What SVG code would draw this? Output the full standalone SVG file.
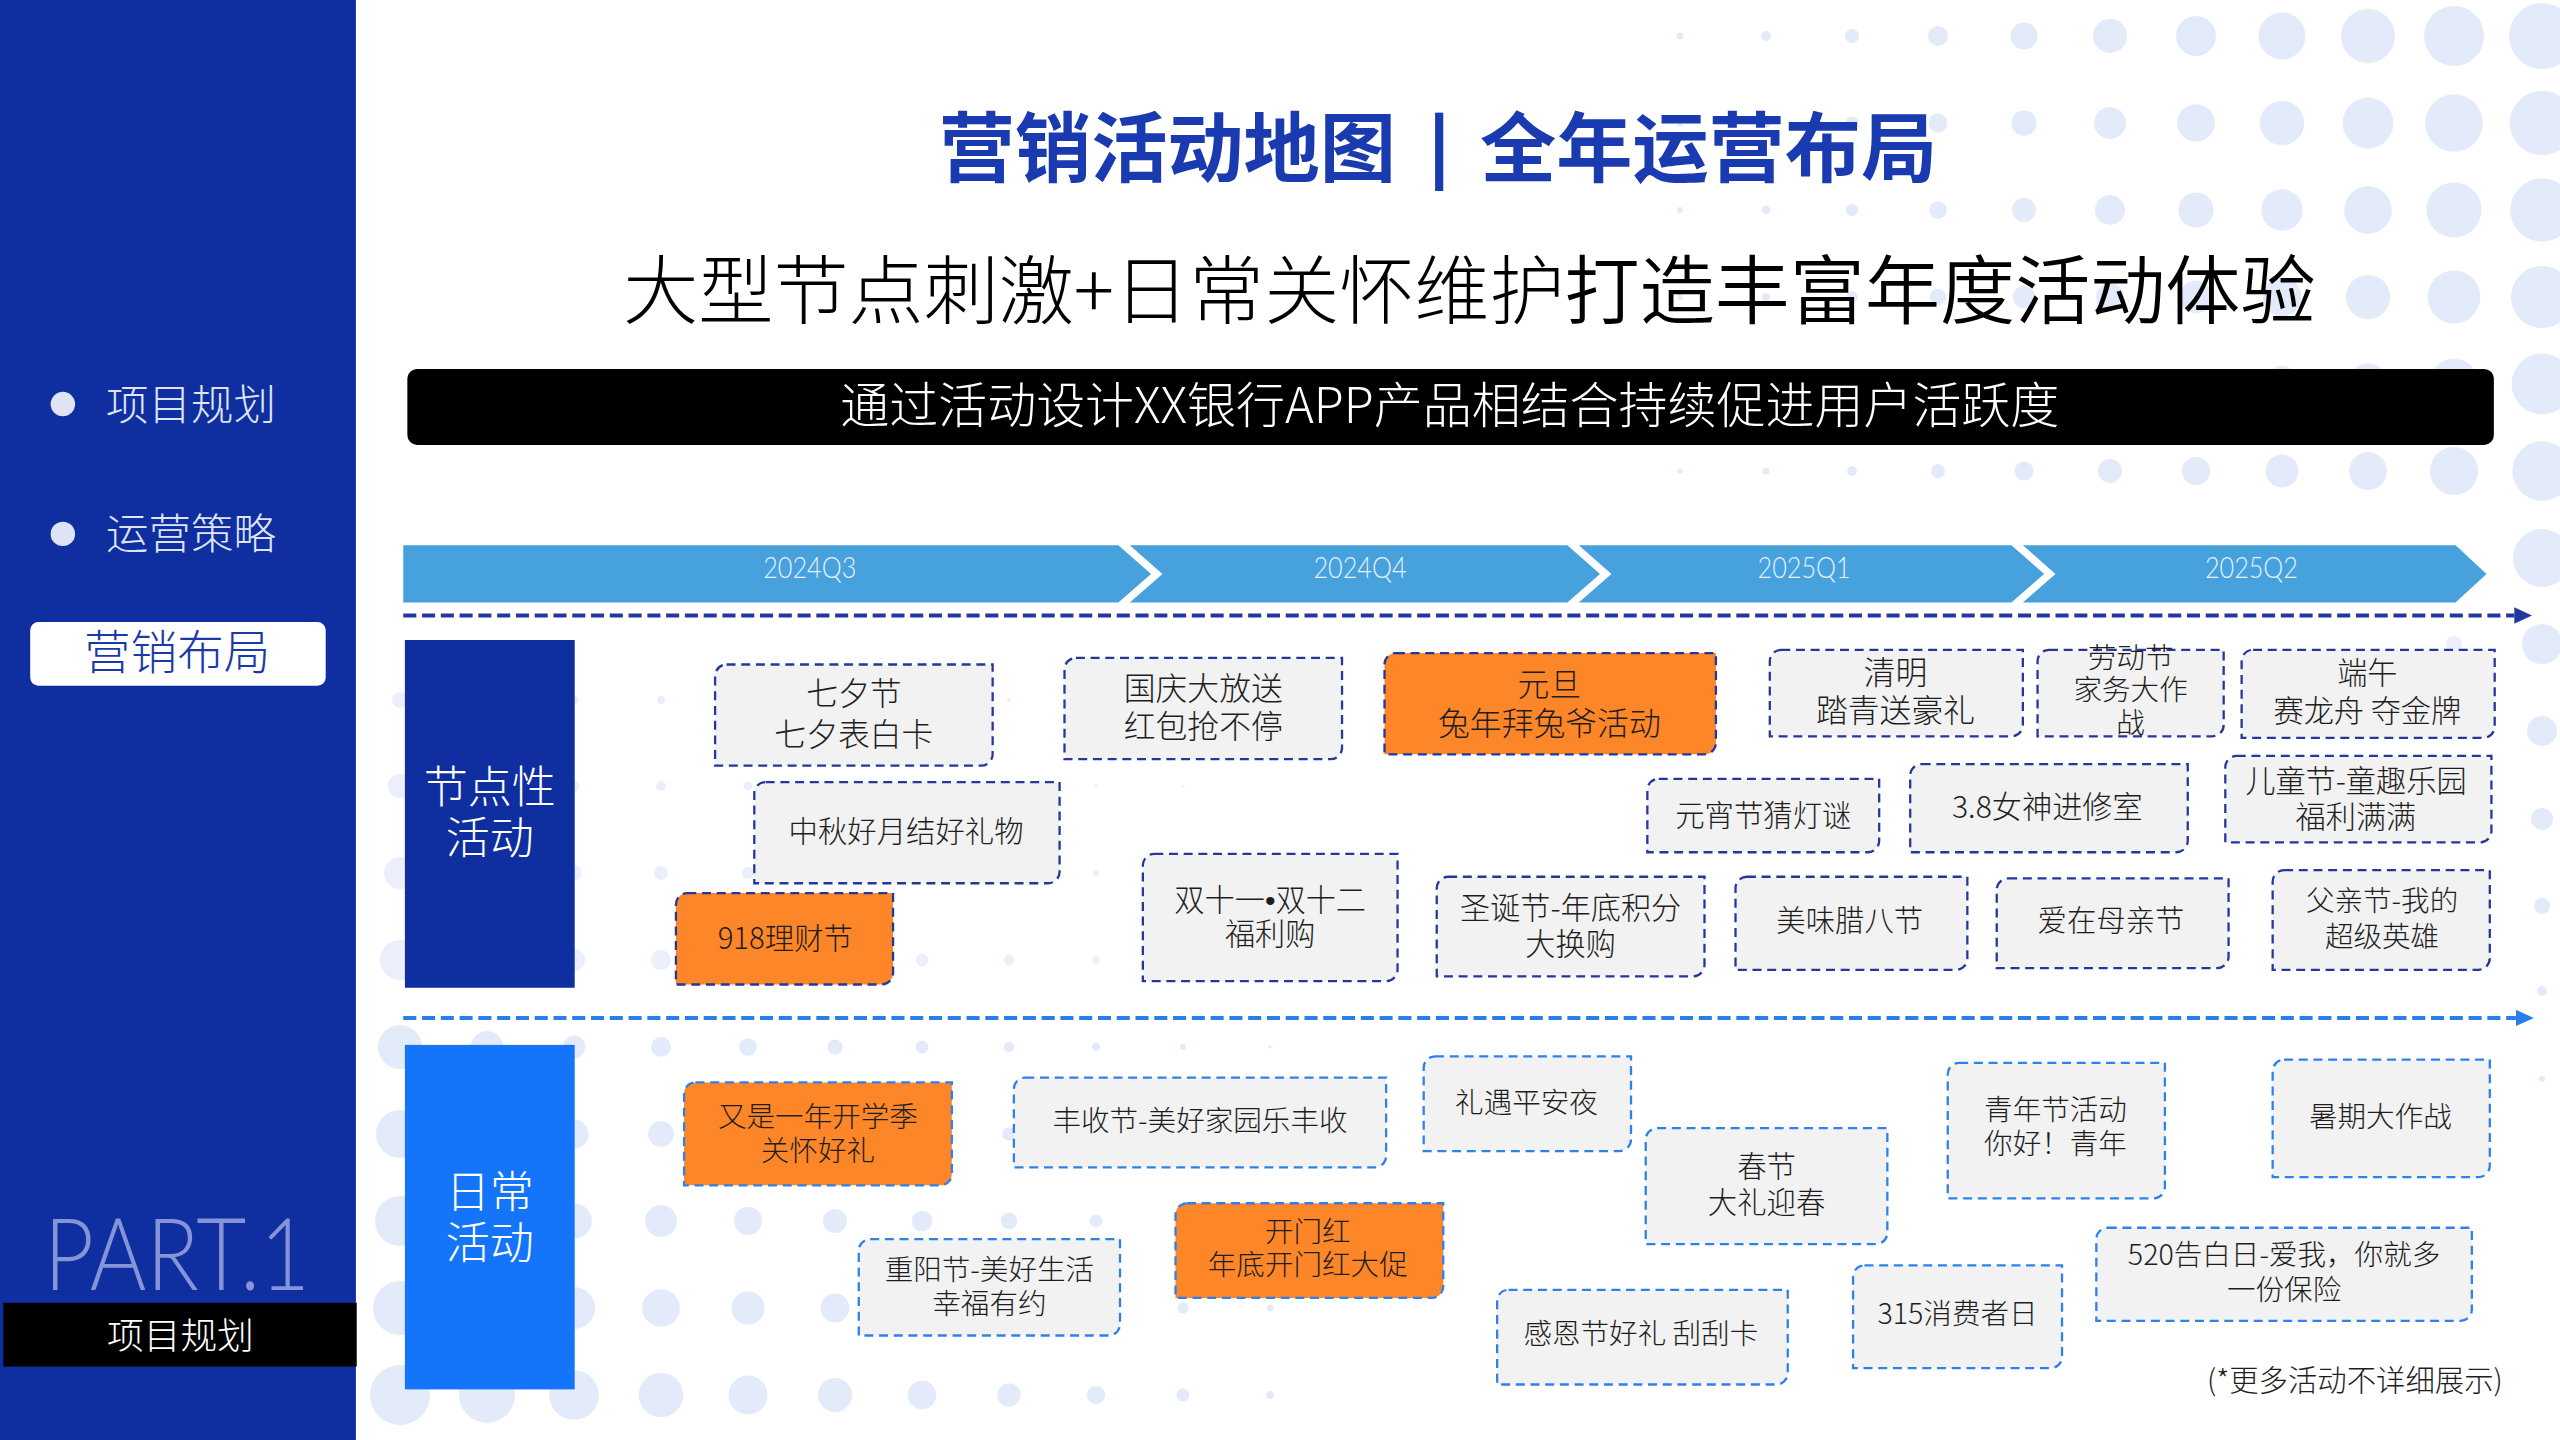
<svg xmlns="http://www.w3.org/2000/svg" width="2560" height="1440" viewBox="0 0 2560 1440">
<style>
.cjk{font-family:'Noto Sans CJK SC','Noto Sans',sans-serif}
.dot{fill:#e3eafa}
.dotf{fill:#e3eafa;opacity:0.75}
.n1{fill:#f2f2f2;stroke:#25379b;stroke-width:1.4;stroke-dasharray:5.5 3.5}
.n2{fill:#f2f2f2;stroke:#2e80ea;stroke-width:1.4;stroke-dasharray:5.5 3.5}
.or{fill:#fd8629}
.nt{font-family:'Noto Sans CJK SC','Noto Sans',sans-serif;fill:#1e1e1e;text-anchor:middle;font-weight:300}
.ql{font-family:'Lato','Noto Sans',sans-serif;font-weight:300;font-size:18px;fill:#e6f1fb;text-anchor:middle}
.chev{fill:#47a1dd}
</style>
<defs>
<marker id="ah1" markerWidth="11" markerHeight="10" refX="0" refY="5" orient="auto" markerUnits="userSpaceOnUse"><path d="M0,0 L11,5 L0,10 Z" fill="#22389e"/></marker>
<marker id="ah2" markerWidth="11" markerHeight="10" refX="0" refY="5" orient="auto" markerUnits="userSpaceOnUse"><path d="M0,0 L11,5 L0,10 Z" fill="#2a7eea"/></marker>
</defs>
<rect width="2560" height="1440" fill="#ffffff"/>
<g id="dots-top-right">
<circle class="dot" cx="1680" cy="36" r="3.5"/><circle class="dot" cx="1766" cy="36" r="5"/><circle class="dot" cx="1852" cy="36" r="7"/><circle class="dot" cx="1938" cy="36" r="10"/><circle class="dot" cx="2024" cy="36" r="13.5"/><circle class="dot" cx="2110" cy="36" r="17"/><circle class="dot" cx="2196" cy="36" r="20"/><circle class="dot" cx="2282" cy="36" r="23.5"/><circle class="dot" cx="2368" cy="36" r="27"/><circle class="dot" cx="2454" cy="36" r="30"/><circle class="dot" cx="2542" cy="36" r="33"/>
<circle class="dot" cx="1680" cy="123" r="3.3"/><circle class="dot" cx="1766" cy="123" r="4.7"/><circle class="dot" cx="1852" cy="123" r="6.6"/><circle class="dot" cx="1938" cy="123" r="9.4"/><circle class="dot" cx="2024" cy="123" r="12.7"/><circle class="dot" cx="2110" cy="123" r="16"/><circle class="dot" cx="2196" cy="123" r="18.8"/><circle class="dot" cx="2282" cy="123" r="22.1"/><circle class="dot" cx="2368" cy="123" r="25.4"/><circle class="dot" cx="2454" cy="123" r="28.8"/><circle class="dot" cx="2542" cy="123" r="32.3"/>
<circle class="dot" cx="1680" cy="210" r="3.1"/><circle class="dot" cx="1766" cy="210" r="4.4"/><circle class="dot" cx="1852" cy="210" r="6.2"/><circle class="dot" cx="1938" cy="210" r="8.8"/><circle class="dot" cx="2024" cy="210" r="11.9"/><circle class="dot" cx="2110" cy="210" r="15"/><circle class="dot" cx="2196" cy="210" r="17.6"/><circle class="dot" cx="2282" cy="210" r="20.7"/><circle class="dot" cx="2368" cy="210" r="23.8"/><circle class="dot" cx="2454" cy="210" r="27.6"/><circle class="dot" cx="2542" cy="210" r="31.7"/>
<circle class="dot" cx="1680" cy="297" r="2.9"/><circle class="dot" cx="1766" cy="297" r="4.1"/><circle class="dot" cx="1852" cy="297" r="5.7"/><circle class="dot" cx="1938" cy="297" r="8.2"/><circle class="dot" cx="2024" cy="297" r="11.1"/><circle class="dot" cx="2110" cy="297" r="13.9"/><circle class="dot" cx="2196" cy="297" r="16.4"/><circle class="dot" cx="2282" cy="297" r="19.3"/><circle class="dot" cx="2368" cy="297" r="22.1"/><circle class="dot" cx="2454" cy="297" r="26.4"/><circle class="dot" cx="2542" cy="297" r="31"/>
<circle class="dot" cx="1680" cy="384" r="2.7"/><circle class="dot" cx="1766" cy="384" r="3.8"/><circle class="dot" cx="1852" cy="384" r="5.3"/><circle class="dot" cx="1938" cy="384" r="7.6"/><circle class="dot" cx="2024" cy="384" r="10.3"/><circle class="dot" cx="2110" cy="384" r="12.9"/><circle class="dot" cx="2196" cy="384" r="15.2"/><circle class="dot" cx="2282" cy="384" r="17.9"/><circle class="dot" cx="2368" cy="384" r="20.5"/><circle class="dot" cx="2454" cy="384" r="25.2"/><circle class="dot" cx="2542" cy="384" r="30.4"/>
<circle class="dot" cx="1680" cy="471" r="2.5"/><circle class="dot" cx="1766" cy="471" r="3.5"/><circle class="dot" cx="1852" cy="471" r="4.9"/><circle class="dot" cx="1938" cy="471" r="7"/><circle class="dot" cx="2024" cy="471" r="9.5"/><circle class="dot" cx="2110" cy="471" r="11.9"/><circle class="dot" cx="2196" cy="471" r="14"/><circle class="dot" cx="2282" cy="471" r="16.5"/><circle class="dot" cx="2368" cy="471" r="18.9"/><circle class="dot" cx="2454" cy="471" r="24"/><circle class="dot" cx="2542" cy="471" r="29.7"/>
<circle class="dot" cx="2542" cy="558" r="29"/><circle class="dot" cx="2542" cy="644" r="20"/><circle class="dot" cx="2542" cy="731" r="15"/><circle class="dot" cx="2542" cy="819" r="11"/><circle class="dot" cx="2542" cy="906" r="8"/><circle class="dot" cx="2542" cy="991" r="5"/><circle class="dot" cx="2542" cy="1079" r="3"/>
<circle class="dotf" cx="2454" cy="558" r="12"/><circle class="dotf" cx="2454" cy="644" r="8"/><circle class="dotf" cx="2454" cy="731" r="5"/>
</g>
<g id="dots-bottom-left">
<circle class="dotf" cx="400" cy="700" r="8"/><circle class="dotf" cx="487" cy="700" r="6"/><circle class="dotf" cx="574" cy="700" r="4.5"/><circle class="dotf" cx="661" cy="700" r="4"/><circle class="dotf" cx="748" cy="700" r="3.5"/><circle class="dotf" cx="835" cy="700" r="3"/><circle class="dotf" cx="922" cy="700" r="2.6"/><circle class="dotf" cx="1009" cy="700" r="2.1"/><circle class="dotf" cx="1096" cy="700" r="1.6"/>
<circle class="dotf" cx="400" cy="786" r="12"/><circle class="dotf" cx="487" cy="786" r="9"/><circle class="dotf" cx="574" cy="786" r="5.6"/><circle class="dotf" cx="661" cy="786" r="5"/><circle class="dotf" cx="748" cy="786" r="4.4"/><circle class="dotf" cx="835" cy="786" r="3.8"/><circle class="dotf" cx="922" cy="786" r="3.2"/><circle class="dotf" cx="1009" cy="786" r="2.6"/><circle class="dotf" cx="1096" cy="786" r="2.1"/><circle class="dotf" cx="1183" cy="786" r="1.5"/>
<circle class="dotf" cx="400" cy="873" r="16"/><circle class="dotf" cx="487" cy="873" r="12"/><circle class="dotf" cx="574" cy="873" r="7.8"/><circle class="dotf" cx="661" cy="873" r="7"/><circle class="dotf" cx="748" cy="873" r="6.2"/><circle class="dotf" cx="835" cy="873" r="5.4"/><circle class="dotf" cx="922" cy="873" r="4.5"/><circle class="dotf" cx="1009" cy="873" r="3.7"/><circle class="dotf" cx="1096" cy="873" r="2.9"/><circle class="dotf" cx="1183" cy="873" r="2"/>
<circle class="dotf" cx="400" cy="960" r="20"/><circle class="dotf" cx="487" cy="960" r="15"/><circle class="dotf" cx="574" cy="960" r="11.2"/><circle class="dotf" cx="661" cy="960" r="10"/><circle class="dotf" cx="748" cy="960" r="8.8"/><circle class="dotf" cx="835" cy="960" r="7.6"/><circle class="dotf" cx="922" cy="960" r="6.5"/><circle class="dotf" cx="1009" cy="960" r="5.3"/><circle class="dotf" cx="1096" cy="960" r="4.1"/><circle class="dotf" cx="1183" cy="960" r="2.9"/>
<circle class="dot" cx="400" cy="1047" r="22"/><circle class="dot" cx="487" cy="1047" r="16"/><circle class="dot" cx="574" cy="1047" r="11.2"/><circle class="dot" cx="661" cy="1047" r="10"/><circle class="dot" cx="748" cy="1047" r="8.8"/><circle class="dot" cx="835" cy="1047" r="7.6"/><circle class="dot" cx="922" cy="1047" r="6.5"/><circle class="dot" cx="1009" cy="1047" r="5.3"/><circle class="dot" cx="1096" cy="1047" r="4.1"/><circle class="dot" cx="1183" cy="1047" r="2.9"/><circle class="dot" cx="1270" cy="1047" r="1.8"/>
<circle class="dot" cx="400" cy="1134" r="24"/><circle class="dot" cx="487" cy="1134" r="18"/><circle class="dot" cx="574" cy="1134" r="14.5"/><circle class="dot" cx="661" cy="1134" r="12.9"/><circle class="dot" cx="748" cy="1134" r="11.4"/><circle class="dot" cx="835" cy="1134" r="9.9"/><circle class="dot" cx="922" cy="1134" r="8.4"/><circle class="dot" cx="1009" cy="1134" r="6.8"/><circle class="dot" cx="1096" cy="1134" r="5.3"/><circle class="dot" cx="1183" cy="1134" r="3.8"/><circle class="dot" cx="1270" cy="1134" r="2.3"/>
<circle class="dot" cx="400" cy="1221" r="25"/><circle class="dot" cx="487" cy="1221" r="20"/><circle class="dot" cx="574" cy="1221" r="17.8"/><circle class="dot" cx="661" cy="1221" r="15.9"/><circle class="dot" cx="748" cy="1221" r="14"/><circle class="dot" cx="835" cy="1221" r="12.1"/><circle class="dot" cx="922" cy="1221" r="10.3"/><circle class="dot" cx="1009" cy="1221" r="8.4"/><circle class="dot" cx="1096" cy="1221" r="6.5"/><circle class="dot" cx="1183" cy="1221" r="4.7"/><circle class="dot" cx="1270" cy="1221" r="2.8"/>
<circle class="dot" cx="400" cy="1308" r="27"/><circle class="dot" cx="487" cy="1308" r="24"/><circle class="dot" cx="574" cy="1308" r="21.1"/><circle class="dot" cx="661" cy="1308" r="18.8"/><circle class="dot" cx="748" cy="1308" r="16.6"/><circle class="dot" cx="835" cy="1308" r="14.4"/><circle class="dot" cx="922" cy="1308" r="12.2"/><circle class="dot" cx="1009" cy="1308" r="10"/><circle class="dot" cx="1096" cy="1308" r="7.8"/><circle class="dot" cx="1183" cy="1308" r="5.5"/><circle class="dot" cx="1270" cy="1308" r="3.3"/>
<circle class="dot" cx="400" cy="1395" r="30"/><circle class="dot" cx="487" cy="1395" r="28"/><circle class="dot" cx="574" cy="1395" r="24.8"/><circle class="dot" cx="661" cy="1395" r="22.2"/><circle class="dot" cx="748" cy="1395" r="19.6"/><circle class="dot" cx="835" cy="1395" r="17"/><circle class="dot" cx="922" cy="1395" r="14.3"/><circle class="dot" cx="1009" cy="1395" r="11.7"/><circle class="dot" cx="1096" cy="1395" r="9.1"/><circle class="dot" cx="1183" cy="1395" r="6.5"/><circle class="dot" cx="1270" cy="1395" r="3.9"/>
</g>
<g transform="scale(1.6326531)">
<g id="sidebar">
<rect x="0" y="0" width="218" height="882" fill="#0f2ea0"/>
<circle cx="38.5" cy="247.5" r="7.5" fill="#dfe4f5"/>
<text x="65" y="257" class="cjk" font-size="26" font-weight="300" fill="#dfe4f5">项目规划</text>
<circle cx="38.5" cy="327" r="7.5" fill="#dfe4f5"/>
<text x="65" y="336" class="cjk" font-size="26" font-weight="300" fill="#dfe4f5">运营策略</text>
<rect x="18.5" y="381" width="181" height="39" rx="5" fill="#ffffff"/>
<text x="108.5" y="410" class="cjk" font-size="28.5" font-weight="300" fill="#1a3aa8" text-anchor="middle">营销布局</text>
<text x="27" y="790" font-family="Lato,'Open Sans',sans-serif" font-weight="300" font-size="62" fill="#8494d6" textLength="163" lengthAdjust="spacingAndGlyphs">PART.1</text>
<rect x="2" y="798" width="216.5" height="39" fill="#000000"/>
<text x="110.5" y="826" class="cjk" font-size="22.5" font-weight="300" fill="#ffffff" text-anchor="middle">项目规划</text>
</g>
<g id="title">
<text x="575" y="108" class="cjk" font-size="46.5" font-weight="bold" fill="#1a3ab0" textLength="280" lengthAdjust="spacingAndGlyphs">营销活动地图</text>
<rect x="879" y="69" width="5" height="48" fill="#1a3ab0"/>
<text x="906.5" y="108" class="cjk" font-size="46.5" font-weight="bold" fill="#1a3ab0" textLength="280" lengthAdjust="spacingAndGlyphs">全年运营布局</text>
</g>
<g id="subtitle">
<text x="900" y="195" class="cjk" font-size="46" fill="#000000" text-anchor="middle"><tspan font-weight="300">大型节点刺激+日常关怀维护</tspan><tspan font-weight="350">打造丰富年度活动体验</tspan></text>
</g>
<g id="banner">
<rect x="249.5" y="226" width="1278" height="46.5" rx="6" fill="#000000"/>
<text x="888" y="259" class="cjk" font-size="30" font-weight="300" fill="#ffffff" text-anchor="middle">通过活动设计XX银行APP产品相结合持续促进用户活跃度</text>
</g>
<g id="timeline">
<path class="chev" d="M247,334 H685 L705,351.5 L685,369 H247 Z"/>
<path class="chev" d="M692,334 H960 L980,351.5 L960,369 H692 L712,351.5 Z"/>
<path class="chev" d="M967,334 H1232 L1252,351.5 L1232,369 H967 L987,351.5 Z"/>
<path class="chev" d="M1239,334 H1504 L1523,351.5 L1504,369 H1239 L1259,351.5 Z"/>
<text class="ql" x="496" y="354" textLength="57" lengthAdjust="spacingAndGlyphs">2024Q3</text>
<text class="ql" x="833" y="354" textLength="57" lengthAdjust="spacingAndGlyphs">2024Q4</text>
<text class="ql" x="1105" y="354" textLength="57" lengthAdjust="spacingAndGlyphs">2025Q1</text>
<text class="ql" x="1379" y="354" textLength="57" lengthAdjust="spacingAndGlyphs">2025Q2</text>
</g>
<g id="connectors">
<line x1="247" y1="377" x2="1540" y2="377" stroke="#22389e" stroke-width="2.4" stroke-dasharray="8 3.5" marker-end="url(#ah1)"/>
<line x1="247" y1="623.5" x2="1541" y2="623.5" stroke="#2a7eea" stroke-width="2.4" stroke-dasharray="8 3.5" marker-end="url(#ah2)"/>
</g>
<g id="label-festival">
<rect x="248" y="392" width="104" height="213" fill="#0f2ea0"/>
<text class="cjk" font-size="27" font-weight="300" fill="#ffffff" text-anchor="middle"><tspan x="300" y="492">节点性</tspan><tspan x="300" y="523">活动</tspan></text>
</g>
<g id="label-daily">
<rect x="248" y="640" width="104" height="211" fill="#1475fa"/>
<text class="cjk" font-size="27" font-weight="300" fill="#ffffff" text-anchor="middle"><tspan x="300" y="740">日常</tspan><tspan x="300" y="771">活动</tspan></text>
</g>
<g id="node-qixi"><path class="n1" d="M445,407 H608 V462 A7 7 0 0 1 601,469 H438 V414 A7 7 0 0 1 445,407 Z"/><text class="nt" font-size="19.5"><tspan x="523" y="432">七夕节</tspan><tspan x="523" y="457">七夕表白卡</tspan></text></g>
<g id="node-zhongqiu"><path class="n1" d="M469,479 H649 V534 A7 7 0 0 1 642,541 H462 V486 A7 7 0 0 1 469,479 Z"/><text class="nt" font-size="18" x="555" y="516">中秋好月结好礼物</text></g>
<g id="node-918"><path class="n1 or" d="M421,547 H547 V596 A7 7 0 0 1 540,603 H414 V554 A7 7 0 0 1 421,547 Z"/><text class="nt" font-size="18" x="481" y="581">918理财节</text></g>
<g id="node-guoqing"><path class="n1" d="M659,403 H822 V458 A7 7 0 0 1 815,465 H652 V410 A7 7 0 0 1 659,403 Z"/><text class="nt" font-size="19.5"><tspan x="737" y="429">国庆大放送</tspan><tspan x="737" y="452">红包抢不停</tspan></text></g>
<g id="node-yuandan"><path class="n1 or" d="M855,400 H1051 V455 A7 7 0 0 1 1044,462 H848 V407 A7 7 0 0 1 855,400 Z"/><text class="nt" font-size="19.5"><tspan x="949" y="426">元旦</tspan><tspan x="949" y="450">兔年拜兔爷活动</tspan></text></g>
<g id="node-double11"><path class="n1" d="M707,523 H856 V594 A7 7 0 0 1 849,601 H700 V530 A7 7 0 0 1 707,523 Z"/><text class="nt" font-size="18.5"><tspan x="778" y="558">双十一<tspan font-family="'Liberation Sans',sans-serif">•</tspan>双十二</tspan><tspan x="778" y="579">福利购</tspan></text></g>
<g id="node-christmas"><path class="n1" d="M887,537 H1044 V591 A7 7 0 0 1 1037,598 H880 V544 A7 7 0 0 1 887,537 Z"/><text class="nt" font-size="18.5"><tspan x="962" y="563">圣诞节-年底积分</tspan><tspan x="962" y="585">大换购</tspan></text></g>
<g id="node-yuanxiao"><path class="n1" d="M1016,477 H1151 V515 A7 7 0 0 1 1144,522 H1009 V484 A7 7 0 0 1 1016,477 Z"/><text class="nt" font-size="18" x="1080" y="506">元宵节猜灯谜</text></g>
<g id="node-laba"><path class="n1" d="M1070,537 H1205 V587 A7 7 0 0 1 1198,594 H1063 V544 A7 7 0 0 1 1070,537 Z"/><text class="nt" font-size="18" x="1133" y="570">美味腊八节</text></g>
<g id="node-qingming"><path class="n1" d="M1091,398 H1239 V444 A7 7 0 0 1 1232,451 H1084 V405 A7 7 0 0 1 1091,398 Z"/><text class="nt" font-size="19.5"><tspan x="1161" y="419">清明</tspan><tspan x="1161" y="442">踏青送豪礼</tspan></text></g>
<g id="node-laodong"><path class="n1" d="M1255,398 H1362 V444 A7 7 0 0 1 1355,451 H1248 V405 A7 7 0 0 1 1255,398 Z"/><text class="nt" font-size="17.5"><tspan x="1305" y="409">劳动节</tspan><tspan x="1305" y="429">家务大作</tspan><tspan x="1305" y="449">战</tspan></text></g>
<g id="node-duanwu"><path class="n1" d="M1380,398 H1528 V445 A7 7 0 0 1 1521,452 H1373 V405 A7 7 0 0 1 1380,398 Z"/><text class="nt" font-size="18.5"><tspan x="1450" y="419">端午</tspan><tspan x="1450" y="442">赛龙舟 夺金牌</tspan></text></g>
<g id="node-38"><path class="n1" d="M1177,468 H1340 V515 A7 7 0 0 1 1333,522 H1170 V475 A7 7 0 0 1 1177,468 Z"/><text class="nt" font-size="18.5" x="1254" y="501">3.8女神进修室</text></g>
<g id="node-children"><path class="n1" d="M1370,463 H1526 V509 A7 7 0 0 1 1519,516 H1363 V470 A7 7 0 0 1 1370,463 Z"/><text class="nt" font-size="18.5"><tspan x="1443" y="485">儿童节-童趣乐园</tspan><tspan x="1443" y="507">福利满满</tspan></text></g>
<g id="node-mother"><path class="n1" d="M1230,538 H1365 V586 A7 7 0 0 1 1358,593 H1223 V545 A7 7 0 0 1 1230,538 Z"/><text class="nt" font-size="18" x="1293" y="570">爱在母亲节</text></g>
<g id="node-father"><path class="n1" d="M1399,533 H1525 V587 A7 7 0 0 1 1518,594 H1392 V540 A7 7 0 0 1 1399,533 Z"/><text class="nt" font-size="17.5"><tspan x="1459" y="558">父亲节-我的</tspan><tspan x="1459" y="580">超级英雄</tspan></text></g>
<g id="node-school"><path class="n2 or" d="M426,663 H583 V719 A7 7 0 0 1 576,726 H419 V670 A7 7 0 0 1 426,663 Z"/><text class="nt" font-size="17.5"><tspan x="501" y="690">又是一年开学季</tspan><tspan x="501" y="711">关怀好礼</tspan></text></g>
<g id="node-chongyang"><path class="n2" d="M533,759 H686 V811 A7 7 0 0 1 679,818 H526 V766 A7 7 0 0 1 533,759 Z"/><text class="nt" font-size="17.5"><tspan x="606" y="784">重阳节-美好生活</tspan><tspan x="606" y="805">幸福有约</tspan></text></g>
<g id="node-harvest"><path class="n2" d="M628,660 H849 V708 A7 7 0 0 1 842,715 H621 V667 A7 7 0 0 1 628,660 Z"/><text class="nt" font-size="17.5" x="735" y="693">丰收节-美好家园乐丰收</text></g>
<g id="node-pinganye"><path class="n2" d="M879,647 H999 V698 A7 7 0 0 1 992,705 H872 V654 A7 7 0 0 1 879,647 Z"/><text class="nt" font-size="17.5" x="935" y="682">礼遇平安夜</text></g>
<g id="node-kaimenhong"><path class="n2 or" d="M727,737 H884 V788 A7 7 0 0 1 877,795 H720 V744 A7 7 0 0 1 727,737 Z"/><text class="nt" font-size="17.5"><tspan x="801" y="761">开门红</tspan><tspan x="801" y="781">年底开门红大促</tspan></text></g>
<g id="node-spring"><path class="n2" d="M1015,691 H1156 V755 A7 7 0 0 1 1149,762 H1008 V698 A7 7 0 0 1 1015,691 Z"/><text class="nt" font-size="18"><tspan x="1082" y="721">春节</tspan><tspan x="1082" y="743">大礼迎春</tspan></text></g>
<g id="node-thanks"><path class="n2" d="M924,790 H1095 V841 A7 7 0 0 1 1088,848 H917 V797 A7 7 0 0 1 924,790 Z"/><text class="nt" font-size="17.5" x="1005" y="823">感恩节好礼 刮刮卡</text></g>
<g id="node-youth"><path class="n2" d="M1200,651 H1326 V727 A7 7 0 0 1 1319,734 H1193 V658 A7 7 0 0 1 1200,651 Z"/><text class="nt" font-size="17.5"><tspan x="1259" y="686">青年节活动</tspan><tspan x="1259" y="707">你好！青年</tspan></text></g>
<g id="node-summer"><path class="n2" d="M1399,649 H1525 V714 A7 7 0 0 1 1518,721 H1392 V656 A7 7 0 0 1 1399,649 Z"/><text class="nt" font-size="17.5" x="1458" y="690">暑期大作战</text></g>
<g id="node-315"><path class="n2" d="M1142,775 H1263 V831 A7 7 0 0 1 1256,838 H1135 V782 A7 7 0 0 1 1142,775 Z"/><text class="nt" font-size="17.5" x="1199" y="811">315消费者日</text></g>
<g id="node-520"><path class="n2" d="M1291,752 H1514 V802 A7 7 0 0 1 1507,809 H1284 V759 A7 7 0 0 1 1291,752 Z"/><text class="nt" font-size="17.5"><tspan x="1399" y="775">520告白日-爱我，你就多</tspan><tspan x="1399" y="796">一份保险</tspan></text></g>
<text x="1533" y="852" class="cjk" font-size="18" font-weight="300" fill="#1e1e1e" text-anchor="end">(*更多活动不详细展示)</text>
</g>
</svg>
